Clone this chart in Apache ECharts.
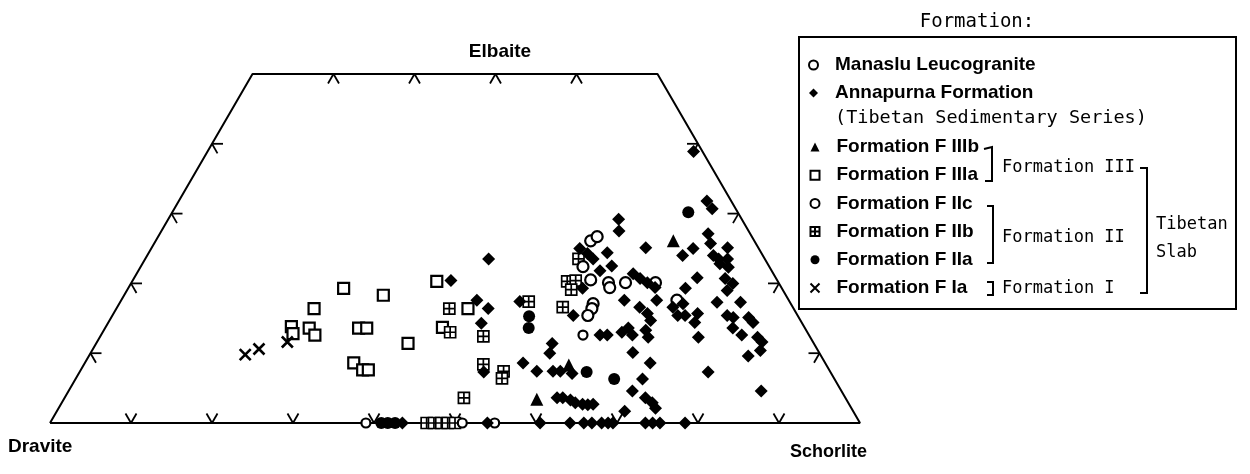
<!DOCTYPE html>
<html lang="en">
<head>
<meta charset="UTF-8">
<title>Tourmaline - Dravite / Schorlite / Elbaite</title>
<script src="https://cdn.jsdelivr.net/npm/echarts@6/dist/echarts.min.js"></script>
<style>
  html, body { margin: 0; padding: 0; background: #fff; }
  #main { width: 1250px; height: 474px; }
</style>
</head>
<body>
<div id="main"></div>
<script type="text/javascript">
// ternary points: [Schorlite %, Elbaite %]  (Dravite = rest)
var manaslu = [[53.7,26.1],[54.2,26.7],[54.6,22.4],[56.5,20.5],[58.9,20.1],[59.4,19.4],[61.0,20.1],
    [64.7,20.1],[58.5,17.1],[58.7,16.4],[58.7,15.4],[68.6,17.6]];

var annapurna = [[42.4,23.5],[39.3,20.4],[43.9,17.6],[45.9,16.4],[46.1,14.3],[49.9,7.3],[49.3,17.4],
    [54.1,8.6],[56.4,7.4],[56.3,11.4],[56.7,10.0],[58.4,7.4],[59.3,7.4],[60.9,7.1],[60.8,3.6],[61.5,3.6],
    [62.6,3.3],[63.4,2.9],[64.4,2.7],[65.1,2.6],[65.7,2.7],
    [55.6,29.2],[56.5,27.5],[52.9,25.0],[54.2,24.3],[55.3,23.5],[56.6,24.4],[57.0,21.8],[58.1,22.5],
    [56.1,19.3],[56.9,15.4],[61.0,25.1],[61.3,21.4],[62.5,20.7],[63.7,20.1],[62.1,17.6],[66.1,17.6],
    [64.5,16.6],[65.9,15.7],[66.8,14.7],[66.9,13.3],[67.7,12.3],[64.1,13.0],[64.6,13.6],[65.6,12.6],
    [61.6,12.6],[62.5,12.6],[66.9,10.1],[69.8,8.6],[70.0,6.3],[69.6,4.6],[71.7,3.6],[72.9,2.9],
    [73.7,2.1],[70.1,1.7],
    [60.0,38.9],[65.2,31.8],[66.4,30.7],[67.7,27.1],[68.7,25.7],[71.1,25.1],[66.9,25.0],[66.1,24.0],
    [69.9,24.0],[70.8,23.5],[71.9,23.5],[72.6,22.3],[69.5,20.8],[68.8,19.3],[69.6,17.1],[70.7,15.4],
    [72.1,15.7],[72.4,14.4],[73.9,12.3],[73.0,20.7],[74.3,20.0],[74.1,19.0],[73.7,17.3],[76.6,17.3],
    [75.9,15.4],[76.8,15.1],[77.5,13.6],[78.7,15.1],[79.6,14.4],[79.1,12.6],[81.2,12.3],[82.1,11.6],
    [82.5,10.4],[81.4,9.6],[77.6,7.3],[85.5,4.6],[69.8,15.4],[68.6,16.6],[71.3,22.8],[65.0,19.4],
    [43.5,0],[54.0,0],[60.5,0],[64.2,0],[65.9,0],[66.9,0],[68.1,0],[68.9,0],[69.5,0],[73.5,0],
    [74.4,0],[75.3,0],[78.4,0]];

var formationFIIIb = [[63.9,26.1],[59.9,8.3],[58.4,3.4]];

var formationFIIIa = [[26.6,19.3],[32.0,18.3],[24.4,16.4],[22.9,13.8],[23.6,12.8],[25.2,13.6],
    [26.4,12.6],[31.3,13.6],[32.3,13.6],[38.5,11.4],[33.2,8.6],[34.8,7.6],[35.5,7.6],[37.6,20.3],
    [43.4,16.4],[41.6,13.7]];

var formationFIIc = [[39.0,0],[50.9,0],[54.9,0],[59.5,12.6]];

var formationFIIb = [[41.1,16.4],[42.9,13.0],[47.3,12.4],[49.3,8.4],[52.3,7.4],[52.6,6.4],[49.3,3.6],
    [50.4,17.4],[55.0,16.6],[53.5,23.5],[53.7,20.3],[54.7,20.4],[54.8,19.1],
    [46.5,0],[47.4,0],[48.3,0],[49.1,0],[50.0,0]];

var formationFIIa = [[51.5,15.3],[52.3,13.6],[62.6,7.3],[66.5,6.3],[63.7,30.2],[40.9,0],[41.7,0],[42.6,0]];

var formationFIa = [[19.2,9.8],[20.5,10.6],[23.5,11.6]];

// frame: triangle cut at 50 % Elbaite
var outline = [[0,0],[100,0],[50,50],[0,50],[0,0]];
var tickBottom = [10,20,30,40,50,60,70,80,90];   // Schorlite % on Dravite-Schorlite side
var tickLeft = [10,20,30,40];                    // Elbaite % on Dravite-Elbaite side
var tickRight = [10,20,30,40];                   // Elbaite % on Schorlite-Elbaite side
var tickTop = [10,20,30,40];                     // Schorlite % on the 50 % Elbaite cut

// ternary -> cartesian (x along the base, y = Elbaite %)
function toXY(p) {
    return [p[0] + p[1] / 2, p[1]];
}

var ticks = [];
tickBottom.forEach(function (s) { ticks.push(toXY([s, 0]).concat(0)); });
tickLeft.forEach(function (e) { ticks.push(toXY([0, e]).concat(1)); });
tickTop.forEach(function (s) { ticks.push(toXY([s, 50]).concat(2)); });
tickRight.forEach(function (e) { ticks.push(toXY([100 - e, e]).concat(3)); });

// arm directions (degrees) for each side
var tickAngles = [[60, 120], [0, -60], [240, 300], [180, 240]];

var myChart = echarts.init(document.getElementById('main'));

var black = '#000';
var openStyle = {color: '#fff', borderColor: black, borderWidth: 2.2, opacity: 1};
var fillStyle = {color: black, opacity: 1};

function points(name, data, symbol, size, style) {
    return {
        type: 'scatter',
        name: name,
        data: data.map(toXY),
        symbol: symbol,
        symbolSize: size,
        itemStyle: style,
        clip: false,
        silent: true,
        z: 3
    };
}

var legendText = {
    color: black,
    fontFamily: '"Liberation Sans", Arial, sans-serif',
    fontWeight: 'bold',
    fontSize: 19,
    lineHeight: 24,
    padding: [0, 0, 0, 12]
};
var monoFont = '17px "DejaVu Sans Mono", monospace';

function bracket(points) {
    return {type: 'polyline', shape: {points: points}, style: {stroke: black, lineWidth: 2, fill: null}};
}
function label(text, x, y, font, align) {
    return {
        type: 'text', x: x, y: y,
        style: {text: text, font: font, fill: black, align: align || 'left', verticalAlign: 'middle'}
    };
}

var option = {
    animation: false,
    grid: {left: 50, right: 390, top: 74, bottom: 51},
    xAxis: {type: 'value', min: 0, max: 100, show: false},
    yAxis: {type: 'value', min: 0, max: 50, show: false},
    legend: [{
        data: ['Manaslu Leucogranite', 'Annapurna Formation'],
        orient: 'vertical', left: 808, top: 53, padding: 0, itemGap: 4,
        itemWidth: 9, itemHeight: 9, selectedMode: false, textStyle: legendText
    }, {
        data: ['Formation F IIIb', 'Formation F IIIa', 'Formation F IIc',
            'Formation F IIb', 'Formation F IIa', 'Formation F Ia'],
        orient: 'vertical', left: 808, top: 135, padding: 0, itemGap: 4.2,
        itemWidth: 9, itemHeight: 9, selectedMode: false, textStyle: legendText
    }],
    graphic: [
        {type: 'rect', shape: {x: 799, y: 37, width: 437, height: 272},
            style: {stroke: black, lineWidth: 2, fill: null}},
        label('Formation:', 977, 22, '19px "DejaVu Sans Mono", monospace', 'center'),
        label('(Tibetan Sedimentary Series)', 835, 118, '18.5px "DejaVu Sans Mono", monospace'),
        bracket([[984, 149], [992, 147], [992, 181], [985, 181]]),
        label('Formation III', 1002, 168, monoFont),
        bracket([[987, 206], [993, 206], [993, 263], [987, 263]]),
        label('Formation II', 1002, 238, monoFont),
        bracket([[987, 282], [993, 282], [993, 295], [987, 295]]),
        label('Formation I', 1002, 289, monoFont),
        bracket([[1140, 168], [1147, 168], [1147, 293], [1140, 293]]),
        label('Tibetan', 1156, 225, monoFont),
        label('Slab', 1156, 253, monoFont),
        label('Dravite', 8, 447, 'bold 19px "Liberation Sans", Arial, sans-serif'),
        label('Elbaite', 500, 52, 'bold 19px "Liberation Sans", Arial, sans-serif', 'center'),
        label('Schorlite', 790, 452, 'bold 18px "Liberation Sans", Arial, sans-serif')
    ],
    series: [
        {
            type: 'line',
            data: outline.map(toXY),
            symbol: 'none',
            lineStyle: {color: black, width: 2},
            silent: true,
            z: 1
        },
        {
            type: 'custom',
            data: ticks,
            silent: true,
            clip: false,
            z: 1,
            renderItem: function (params, api) {
                var p = api.coord([api.value(0), api.value(1)]);
                var len = 11;
                return {
                    type: 'group',
                    children: tickAngles[api.value(2)].map(function (a) {
                        var r = a * Math.PI / 180;
                        return {
                            type: 'line',
                            shape: {x1: p[0], y1: p[1], x2: p[0] + len * Math.cos(r), y2: p[1] - len * Math.sin(r)},
                            style: {stroke: black, lineWidth: 1.8}
                        };
                    })
                };
            }
        },
        points('Formation F IIIa', formationFIIIa, 'rect', 11, openStyle),
        points('Formation F IIb', formationFIIb, 'path://M0,0H10V10H0ZM5,0V10M0,5H10', 11,
            {color: '#fff', borderColor: black, borderWidth: 1.7, opacity: 1}),
        points('Formation F Ia', formationFIa, 'path://M0,0L10,10M10,0L0,10', 11,
            {color: 'none', borderColor: black, borderWidth: 2.6, opacity: 1}),
        points('Manaslu Leucogranite', manaslu, 'circle', 11, openStyle),
        points('Formation F IIc', formationFIIc, 'circle', 9, openStyle),
        points('Formation F IIa', formationFIIa, 'circle', 12, fillStyle),
        points('Formation F IIIb', formationFIIIb, 'triangle', 13, fillStyle),
        points('Annapurna Formation', annapurna, 'diamond', 13, fillStyle)
    ]
};

myChart.setOption(option);
</script>
</body>
</html>
